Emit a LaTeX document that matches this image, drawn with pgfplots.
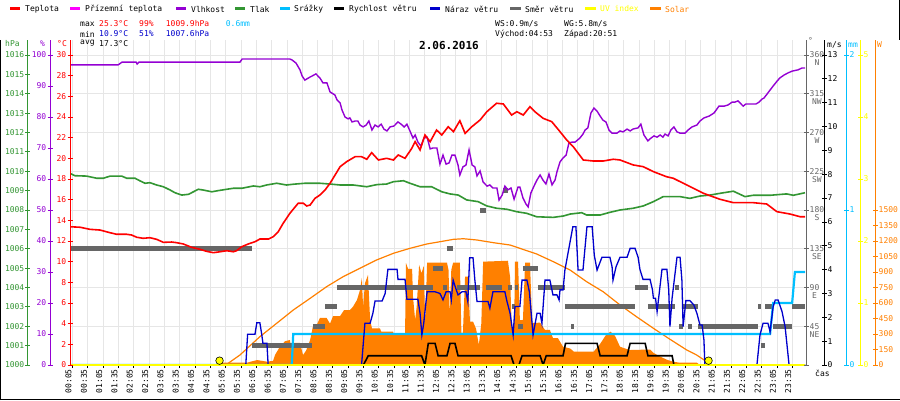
\documentclass[border=0pt]{standalone}
\usepackage{fontspec}
\setmainfont{DejaVu Sans Mono}
\usepackage{pgfplots}
\pgfplotsset{compat=1.18}
\definecolor{cTemp}{RGB}{255,0,0}
\definecolor{cDew}{RGB}{255,0,255}
\definecolor{cHum}{RGB}{148,0,211}
\definecolor{cPres}{RGB}{51,150,51}
\definecolor{cRain}{RGB}{0,191,255}
\definecolor{cGust}{RGB}{0,0,204}
\definecolor{cDir}{RGB}{102,102,102}
\definecolor{cUV}{RGB}{255,255,0}
\definecolor{cSol}{RGB}{255,128,0}
\definecolor{cGrid}{RGB}{230,230,230}
\newcommand{\fs}{\fontsize{8}{8}\selectfont}
\pgfplotsset{
  databox/.style={at={(70pt,35pt)}, anchor=south west, width=735pt, height=325pt,
    scale only axis, xmin=0, xmax=24, hide axis},
  decoL/.style 2 args={at={(#1pt,35pt)}, anchor=south west, width=10pt, height=325pt,
    scale only axis, xmin=0, xmax=1, hide x axis, axis y line*=left,
    axis line style={-, draw=#2, line width=1pt}, ytick style={draw=#2, line width=0.8pt},
    tick align=center, major tick length=5pt,
    yticklabel style={text=#2, font=\fs, inner sep=1pt},
    /pgf/number format/1000 sep={}, /pgf/number format/assume math mode=true},
  decoR/.style 2 args={at={(#1pt,35pt)}, anchor=south east, width=10pt, height=325pt,
    scale only axis, xmin=0, xmax=1, hide x axis, axis y line*=right,
    axis line style={-, draw=#2, line width=1pt}, ytick style={draw=#2, line width=0.8pt},
    tick align=center, major tick length=5pt,
    yticklabel style={text=#2, font=\fs, inner sep=1pt},
    /pgf/number format/1000 sep={}, /pgf/number format/assume math mode=true},
}
\begin{document}
\begin{tikzpicture}[font=\fs]
\useasboundingbox (0,0) rectangle (900pt,400pt);
\fill[white] (0,0) rectangle (900pt,400pt);

% ---------- grid, time axis, solar ----------
\begin{axis}[at={(70pt,35pt)}, anchor=south west, width=735pt, height=325pt, scale only axis,
  xmin=0, xmax=24, ymin=0, ymax=3145.16,
  axis line style={draw=none},
  xtick={0.08333,0.58333,...,23.6},
  xticklabels={00:05,00:35,01:05,01:35,02:05,02:35,03:05,03:35,04:05,04:35,05:05,05:35,06:05,06:35,07:05,07:35,08:05,08:35,09:05,09:35,10:05,10:35,11:05,11:35,12:05,12:35,13:05,13:35,14:05,14:35,15:05,15:35,16:05,16:35,17:05,17:35,18:05,18:35,19:05,19:35,20:05,20:35,21:05,21:35,22:05,22:35,23:05,23:35},
  xtick pos=bottom, xtick align=outside, major tick length=3pt,
  xtick style={draw=black, line width=0.8pt},
  xticklabel style={xshift=-4pt, rotate=90, anchor=east, font=\fs, inner sep=1pt},
  ytick={0,375,...,3000}, yticklabels={,,,,,,,,,}, ytick style={draw=none},
  yticklabel style={text opacity=0},
  grid=major, grid style={cGrid, line width=0.8pt}]
\addplot[fill=cSol, draw=none] coordinates {(4.88,0)(4.90,22)(5.78,22)(5.90,32)(6.11,48)(6.27,40)(6.43,32)(6.63,40)(6.70,100)(6.86,180)(7.02,230)(7.18,242)(7.23,150)(7.28,213)(7.51,213)(7.61,97)(7.71,140)(7.84,242)(7.93,371)(8.03,371)(8.16,455)(8.38,455)(8.49,400)(8.59,474)(8.82,474)(8.95,532)(9.14,532)(9.24,564)(9.37,629)(9.47,726)(9.53,842)(9.57,564)(9.63,790)(9.73,871)(9.80,435)(9.86,355)(10.12,355)(10.16,323)(10.55,323)(10.58,290)(10.94,290)(10.97,987)(11.04,930)(11.17,930)(11.20,661)(11.27,435)(11.32,564)(11.40,968)(11.48,887)(11.55,960)(11.60,403)(11.66,990)(12.31,990)(12.36,919)(12.40,480)(12.45,919)(12.51,990)(12.73,990)(12.78,310)(12.83,310)(12.90,855)(13.00,855)(13.06,420)(13.16,420)(13.26,350)(13.35,194)(13.43,400)(13.49,1000)(14.30,1009)(14.37,850)(14.43,310)(14.50,310)(14.53,1000)(14.63,1000)(14.69,435)(14.79,435)(14.86,990)(15.02,990)(15.09,406)(15.35,410)(15.51,339)(15.67,339)(15.77,261)(15.93,261)(16.10,177)(16.33,160)(16.45,130)(17.10,130)(17.30,200)(17.50,290)(17.65,323)(17.80,280)(17.96,177)(18.12,160)(18.29,145)(18.94,150)(19.04,120)(19.27,81)(19.50,50)(19.69,32)(19.92,22)(20.47,22)(20.57,0)} \closedcycle;
\addplot[cSol, line width=1.2pt] coordinates {(4.88,0)(5.12,7)(5.55,97)(6.20,274)(6.75,404)(7.29,532)(7.84,645)(8.38,758)(8.92,855)(9.47,936)(10.01,1016)(10.56,1081)(11.10,1129)(11.65,1171)(12.08,1193)(12.52,1216)(12.84,1222)(13.28,1210)(13.82,1184)(14.37,1161)(14.69,1129)(15.24,1074)(15.78,1000)(16.33,919)(16.87,806)(17.41,709)(17.96,581)(18.50,467)(19.05,355)(19.59,249)(20.14,145)(20.46,97)(20.79,32)(20.87,0)};
\draw[black, line width=1pt] (rel axis cs:0,0) -- (rel axis cs:1,0);
\end{axis}

% ---------- wind direction ----------
\begin{axis}[databox, ymin=0, ymax=377.419]
\addplot[cDir, line width=5pt, unbounded coords=jump] coordinates {(0,135)(5.94,135)(5.94,nan)(5.94,22.5)(7.90,22.5)(7.90,nan)(7.93,45)(8.33,45)(8.33,nan)(8.33,67.5)(8.72,67.5)(8.72,nan)(8.72,90)(11.85,90)(11.85,nan)(11.85,112.5)(12.18,112.5)(12.18,nan)(12.18,90)(12.31,90)(12.31,nan)(12.31,135)(12.51,135)(12.51,nan)(12.64,90)(13.39,90)(13.39,nan)(13.39,180)(13.58,180)(13.58,nan)(13.58,90)(14.11,90)(14.11,nan)(14.14,202.5)(14.30,202.5)(14.30,nan)(14.30,90)(14.43,90)(14.43,nan)(14.43,67.5)(14.53,67.5)(14.53,nan)(14.53,90)(14.63,90)(14.63,nan)(14.63,45)(14.79,45)(14.79,nan)(14.79,112.5)(15.28,112.5)(15.28,nan)(15.28,90)(16.16,90)(16.16,nan)(16.16,67.5)(18.45,67.5)(18.45,nan)(16.36,45)(16.46,45)(16.46,nan)(18.45,90)(18.87,90)(18.87,nan)(18.87,67.5)(19.76,67.5)(19.76,nan)(19.76,90)(19.89,90)(19.89,nan)(19.89,45)(20.02,45)(20.02,nan)(20.02,67.5)(20.51,67.5)(20.51,nan)(20.18,45)(20.31,45)(20.31,nan)(20.51,45)(22.47,45)(22.47,nan)(22.47,67.5)(22.56,67.5)(22.56,nan)(22.56,22.5)(22.70,22.5)(22.70,nan)(22.70,67.5)(22.96,67.5)(22.96,nan)(22.96,45)(23.58,45)(23.58,nan)(23.58,67.5)(24,67.5)};
\end{axis}

% ---------- rain ----------
\begin{axis}[databox, ymin=0, ymax=2.0968]
\addplot[cRain, line width=2.2pt] coordinates {(0,0)(7.24,0)(7.29,0.2)(22.86,0.2)(22.96,0.4)(23.58,0.4)(23.67,0.6)(24,0.6)};
\end{axis}

% ---------- pressure ----------
\begin{axis}[databox, ymin=1000, ymax=1016.774]
\addplot[cPres, line width=1.6pt] coordinates {(0,1009.89)(0.16,1009.77)(0.54,1009.75)(0.87,1009.64)(1.09,1009.64)(1.31,1009.75)(1.69,1009.75)(1.85,1009.64)(2.12,1009.64)(2.29,1009.50)(2.45,1009.38)(2.61,1009.41)(2.83,1009.29)(3.05,1009.20)(3.27,1009.03)(3.43,1008.89)(3.65,1008.77)(3.87,1008.81)(4.03,1008.94)(4.19,1009.07)(4.35,1009.03)(4.63,1008.94)(4.84,1009.00)(5.12,1009.07)(5.33,1009.12)(5.61,1009.12)(5.99,1009.24)(6.20,1009.20)(6.42,1009.29)(6.75,1009.38)(7.07,1009.29)(7.29,1009.33)(7.67,1009.38)(8.16,1009.38)(8.49,1009.34)(8.82,1009.29)(9.25,1009.29)(9.69,1009.20)(10.02,1009.31)(10.34,1009.34)(10.56,1009.46)(10.89,1009.51)(11.10,1009.38)(11.43,1009.20)(11.81,1009.20)(12.14,1008.94)(12.41,1008.83)(12.68,1008.77)(12.95,1008.52)(13.33,1008.43)(13.61,1008.21)(13.93,1008.09)(14.26,1008.04)(14.59,1007.91)(14.91,1007.83)(15.24,1007.65)(15.78,1007.62)(16.11,1007.69)(16.33,1007.79)(16.71,1007.86)(16.87,1007.74)(17.31,1007.74)(17.63,1007.88)(17.96,1008.00)(18.39,1008.09)(18.72,1008.21)(19.05,1008.43)(19.37,1008.69)(19.92,1008.69)(20.24,1008.60)(20.57,1008.72)(20.90,1008.77)(21.22,1008.86)(21.66,1008.97)(22.04,1008.69)(22.31,1008.76)(22.86,1008.76)(23.40,1008.83)(23.62,1008.76)(24.00,1008.89)};
\end{axis}

% ---------- humidity ----------
\begin{axis}[databox, ymin=0, ymax=104.839]
\addplot[cHum, line width=1.4pt] coordinates {(0,96.8)(1.57,96.8)(1.70,97.7)(2.16,97.7)(2.19,97.1)(2.25,97.7)(5.55,97.7)(5.62,98.7)(7.18,98.7)(7.25,98.4)(7.38,97.4)(7.51,95.2)(7.58,93.2)(7.67,91.9)(7.84,92.9)(7.90,93.2)(8.03,93.9)(8.16,92.6)(8.26,91.0)(8.39,91.0)(8.49,88.1)(8.65,87.1)(8.72,85.5)(8.82,84.5)(8.88,82.3)(8.98,80.0)(9.08,79.4)(9.14,79.7)(9.21,78.4)(9.31,78.7)(9.40,78.7)(9.47,77.4)(9.57,76.8)(9.67,77.4)(9.76,78.7)(9.86,75.8)(9.96,77.4)(10.06,76.8)(10.16,77.7)(10.25,76.1)(10.35,75.5)(10.45,76.8)(10.58,77.1)(10.71,78.4)(10.81,77.7)(10.91,76.8)(11.00,77.7)(11.10,75.5)(11.20,73.2)(11.27,74.2)(11.36,71.9)(11.46,70.6)(11.56,73.2)(11.66,73.5)(11.76,69.7)(11.85,70.0)(11.98,70.0)(12.08,64.8)(12.18,67.7)(12.28,64.8)(12.38,65.2)(12.47,67.7)(12.57,67.7)(12.67,64.5)(12.73,61.3)(12.83,63.9)(12.93,64.5)(13.03,69.4)(13.13,64.5)(13.22,63.9)(13.29,61.0)(13.39,62.6)(13.49,59.0)(13.62,57.7)(13.71,58.1)(13.81,57.1)(13.94,57.1)(14.01,53.2)(14.11,54.8)(14.20,57.7)(14.30,56.5)(14.40,57.1)(14.50,53.5)(14.63,57.4)(14.69,57.4)(14.79,53.9)(14.89,51.9)(14.96,51.0)(15.05,55.5)(15.15,57.7)(15.25,59.7)(15.35,61.3)(15.44,59.7)(15.54,58.4)(15.64,61.6)(15.74,58.1)(15.84,59.7)(15.90,62.3)(16.00,65.5)(16.10,66.8)(16.20,67.7)(16.29,71.6)(16.39,71.9)(16.49,71.9)(16.65,73.2)(16.75,74.5)(16.82,75.8)(16.91,76.5)(17.01,81.3)(17.11,82.9)(17.21,81.9)(17.31,80.3)(17.40,79.0)(17.50,78.4)(17.60,75.8)(17.70,74.8)(17.86,74.8)(17.96,75.5)(18.06,75.2)(18.19,76.1)(18.29,75.5)(18.38,76.1)(18.55,76.5)(18.64,77.7)(18.74,74.2)(18.87,72.3)(18.97,73.2)(19.07,73.9)(19.17,73.5)(19.27,74.2)(19.36,73.5)(19.43,74.5)(19.53,73.9)(19.62,75.8)(19.72,76.8)(19.82,75.2)(19.92,74.8)(20.08,74.8)(20.18,75.8)(20.31,76.8)(20.47,77.4)(20.57,78.7)(20.70,79.7)(20.87,80.3)(21.03,81.3)(21.19,83.5)(21.36,83.5)(21.49,83.9)(21.62,84.8)(21.71,84.8)(21.81,85.2)(21.88,84.5)(21.98,83.5)(22.07,84.2)(22.40,84.2)(22.50,84.8)(22.60,85.8)(22.66,86.1)(22.76,87.4)(22.86,88.7)(22.96,90.0)(23.09,91.6)(23.18,92.6)(23.31,93.5)(23.44,94.2)(23.58,94.8)(23.77,95.2)(23.90,95.8)(24.00,95.8)};
\end{axis}

% ---------- temperature ----------
\begin{axis}[databox, ymin=0, ymax=31.4516]
\addplot[cTemp, line width=1.6pt] coordinates {(0,13.38)(0.33,13.33)(0.65,13.13)(0.98,13.06)(1.31,12.80)(1.52,12.65)(1.85,12.65)(2.01,12.58)(2.18,12.36)(2.39,12.26)(2.61,12.32)(2.83,12.16)(3.05,11.87)(3.32,11.90)(3.48,11.84)(3.70,11.71)(3.97,11.39)(4.24,11.20)(4.46,11.00)(4.68,10.87)(4.90,10.96)(5.12,11.06)(5.33,10.96)(5.44,11.06)(5.61,11.45)(5.82,11.71)(6.04,11.93)(6.20,12.19)(6.48,12.19)(6.64,12.42)(6.80,12.90)(6.96,13.71)(7.18,14.68)(7.45,15.65)(7.62,15.65)(7.73,15.39)(7.84,15.48)(8.00,16.13)(8.16,16.45)(8.33,16.94)(8.49,17.58)(8.82,19.19)(9.03,19.67)(9.31,20.16)(9.52,20.16)(9.69,19.91)(9.85,20.55)(10.07,19.84)(10.34,20.00)(10.56,19.84)(10.72,20.32)(10.94,20.00)(11.16,20.97)(11.27,21.61)(11.43,20.81)(11.59,22.26)(11.76,21.61)(11.97,22.74)(12.14,22.26)(12.35,23.06)(12.52,22.58)(12.73,23.64)(12.90,22.42)(13.12,23.06)(13.39,23.71)(13.61,24.51)(13.93,25.33)(14.15,25.26)(14.42,24.19)(14.59,24.51)(14.80,24.19)(15.02,25.00)(15.18,24.51)(15.45,23.87)(15.73,23.55)(16.00,22.58)(16.22,21.77)(16.43,21.13)(16.76,19.84)(17.09,19.74)(17.41,19.74)(17.74,19.91)(17.96,19.84)(18.39,19.36)(18.72,19.19)(19.05,18.71)(19.48,18.22)(19.70,18.07)(20.14,17.42)(20.68,16.62)(21.22,16.04)(21.66,15.71)(22.31,15.71)(22.75,15.58)(23.08,14.84)(23.51,14.61)(23.84,14.35)(24.00,14.35)};
\end{axis}

% ---------- gust and speed ----------
\begin{axis}[databox, ymin=0, ymax=13.629]
\addplot[cGust, line width=1.3pt] coordinates {(0,0)(5.74,0)(5.80,1.29)(6.04,1.29)(6.10,1.77)(6.20,1.77)(6.26,1.29)(6.30,0.91)(6.43,0.91)(6.47,0)(9.52,0)(9.63,1.75)(9.80,1.75)(9.89,2.17)(9.96,2.68)(10.19,2.68)(10.29,3.0)(10.38,4.01)(10.68,4.01)(10.71,3.59)(10.94,3.59)(11.00,2.76)(11.36,2.76)(11.43,2.17)(11.49,1.26)(11.55,1.75)(11.66,3.07)(11.92,3.07)(12.08,3.0)(12.18,2.73)(12.28,3.07)(12.41,3.07)(12.45,2.73)(12.51,3.56)(12.60,3.20)(12.67,2.94)(12.80,3.07)(12.93,3.07)(12.99,2.66)(13.05,4.50)(13.16,4.50)(13.22,3.56)(13.29,2.66)(13.65,2.66)(13.71,2.38)(13.81,3.07)(14.20,3.07)(14.27,2.66)(14.37,2.17)(14.47,1.26)(14.53,2.45)(14.69,2.45)(14.76,3.56)(14.92,3.56)(15.00,3.07)(15.12,1.26)(15.18,1.68)(15.25,2.17)(15.35,2.17)(15.41,1.75)(15.51,3.56)(15.67,3.56)(15.77,2.94)(15.90,2.94)(15.97,2.73)(16.00,3.15)(16.10,3.15)(16.16,3.98)(16.42,5.80)(16.52,5.80)(16.59,3.98)(16.75,3.98)(16.88,5.80)(17.05,5.80)(17.12,4.6)(17.21,3.98)(17.37,4.52)(17.63,4.52)(17.70,4.12)(17.73,3.56)(17.83,4.12)(17.96,4.52)(18.19,4.52)(18.29,4.89)(18.45,4.89)(18.55,4.52)(18.61,4.01)(18.71,3.59)(18.94,3.59)(19.02,3.15)(19.05,2.80)(19.12,2.80)(19.17,2.24)(19.33,4.01)(19.49,4.01)(19.55,3.15)(19.59,1.61)(19.66,2.80)(19.82,4.52)(19.92,4.52)(19.98,3.56)(20.02,1.61)(20.11,2.70)(20.24,2.70)(20.37,2.52)(20.47,2.17)(20.57,1.68)(20.64,1.68)(20.70,1.05)(20.73,0)(22.43,0)(22.53,1.26)(22.63,1.75)(22.79,1.75)(22.86,1.40)(22.96,2.45)(23.03,2.73)(23.12,2.73)(23.25,2.24)(23.35,1.61)(23.48,0)(24,0)};
\addplot[black, line width=1.6pt] coordinates {(0,0)(9.58,0)(9.74,0.39)(11.48,0.39)(11.59,0)(11.70,0.91)(11.92,0.91)(12.02,0.39)(12.31,0.39)(12.41,0.91)(12.57,0.91)(12.67,0.39)(14.40,0.39)(14.50,0)(14.66,0)(14.76,0.39)(15.35,0.39)(15.45,0)(15.55,0.39)(16.10,0.39)(16.18,0.91)(17.21,0.91)(17.31,0.39)(18.19,0.39)(18.29,0.91)(18.78,0.91)(18.87,0.39)(19.66,0.39)(19.72,0)(24,0)};
\end{axis}

% ---------- UV and sun marks ----------
\begin{axis}[databox, ymin=0, ymax=5.2419, clip=false]
\addplot[cUV, line width=2pt] coordinates {(0,0)(24,0)};
\addplot[only marks, mark=*, mark size=3.8pt, mark options={fill=cUV, draw=black, line width=0.6pt}] coordinates {(4.883,0.07)(20.85,0.07)};
\end{axis}

% ---------- left y axes ----------
\begin{axis}[decoL={28}{cPres}, ymin=1000, ymax=1016.774, ytick={1000,1001,...,1016}]
\end{axis}
\begin{axis}[decoL={50}{cHum}, ymin=0, ymax=104.839, ytick={0,10,...,100}]
\end{axis}
\begin{axis}[decoL={70}{cTemp}, ymin=0, ymax=31.4516, ytick={0,2,...,30}]
\end{axis}

% ---------- right y axes ----------
\begin{axis}[decoR={806}{cDir}, ymin=0, ymax=377.419, ytick={0,45,...,360},
  yticklabels={,{45\\NE},{90\\E},{135\\SE},{180\\S},{225\\SW},{270\\W},{315\\NW},{360\\N}},
  yticklabel style={align=center, yshift=-4pt}]
\end{axis}
\begin{axis}[decoR={824}{black}, ymin=0, ymax=13.629, ytick={0,1,...,13}]
\end{axis}
\begin{axis}[decoR={846}{cRain}, ymin=0, ymax=2.0968, ytick={0,1,2}]
\end{axis}
\begin{axis}[decoR={860}{cUV}, ymin=0, ymax=5.2419, ytick={0,1,...,5}]
\end{axis}
\begin{axis}[decoR={875}{cSol}, ymin=0, ymax=3145.16, ytick={0,150,...,1500}]
\end{axis}

% ---------- axis titles ----------
\begin{scope}[every node/.style={inner sep=0pt, anchor=west}]
\node[text=cPres] at (5pt,356pt) {hPa};
\node[text=cHum] at (40pt,356pt) {\%};
\node[text=cTemp] at (57pt,356pt) {°C};
\node[text=cDir] at (808pt,359pt) {°};
\node[text=black] at (827pt,355pt) {m/s};
\node[text=cRain] at (848pt,355pt) {mm};
\node[text=cSol] at (877pt,355pt) {W};
\node[text=black] at (815pt,27pt) {čas};

% legend
\draw[cTemp, line width=3pt] (10pt,391pt) -- (20pt,391pt);
\node at (25pt,391pt) {Teplota};
\draw[cDew, line width=3pt] (70pt,391pt) -- (80pt,391pt);
\node at (85pt,391pt) {Přízemní teplota};
\draw[cHum, line width=3pt] (176pt,391pt) -- (186pt,391pt);
\node at (191pt,391pt) {Vlhkost};
\draw[cPres, line width=3pt] (235pt,391pt) -- (245pt,391pt);
\node at (250pt,391pt) {Tlak};
\draw[cRain, line width=3pt] (280pt,391pt) -- (290pt,391pt);
\node at (294pt,391pt) {Srážky};
\draw[black, line width=3pt] (334pt,391pt) -- (344pt,391pt);
\node at (349pt,391pt) {Rychlost větru};
\draw[cGust, line width=3pt] (430pt,391pt) -- (440pt,391pt);
\node at (445pt,391pt) {Náraz větru};
\draw[cDir, line width=3pt] (510pt,391pt) -- (521pt,391pt);
\node at (525pt,391pt) {Směr větru};
\draw[cUV, line width=3pt] (585pt,391pt) -- (596pt,391pt);
\node[text=cUV] at (600pt,391pt) {UV index};
\draw[cSol, line width=3pt] (650pt,391pt) -- (661pt,391pt);
\node[text=cSol] at (665pt,391pt) {Solar};

% statistics
\node at (80pt,376pt) {max};
\node[text=cTemp] at (99pt,376pt) {25.3°C};
\node[text=cTemp] at (139pt,376pt) {99\%};
\node[text=cTemp] at (165.7pt,376pt) {1009.9hPa};
\node[text=cRain] at (225.7pt,376pt) {0.6mm};
\node at (80pt,366pt) {min};
\node[text=cGust] at (99pt,366pt) {10.9°C};
\node[text=cGust] at (139pt,366pt) {51\%};
\node[text=cGust] at (165.7pt,366pt) {1007.6hPa};
\node at (80pt,356.5pt) {avg};
\node at (99pt,356.5pt) {17.3°C};
\node at (495pt,376pt) {WS:0.9m/s};
\node at (564pt,376pt) {WG:5.8m/s};
\node at (495pt,366pt) {Východ:04:53};
\node at (564pt,366pt) {Západ:20:51};
\end{scope}
\node[font=\fontsize{11}{11}\selectfont\bfseries, inner sep=0pt] at (449pt,354pt) {2.06.2016};

% frame
\draw[black, line width=1pt] (0.5pt,0) -- (0.5pt,360pt);
\draw[black, line width=1pt] (0,0.5pt) -- (900pt,0.5pt);
\draw[black, line width=1pt] (899.5pt,360pt) -- (899.5pt,400pt);
\end{tikzpicture}
\end{document}
